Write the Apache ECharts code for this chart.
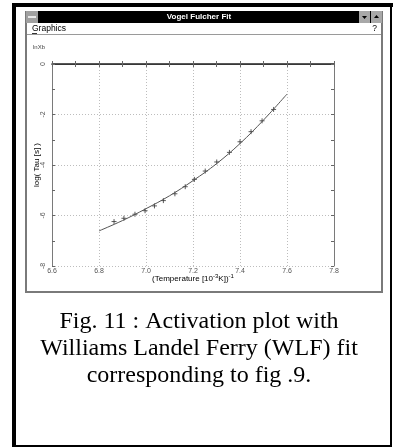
<!DOCTYPE html>
<html><head><meta charset="utf-8">
<style>html,body{margin:0;padding:0;background:#fff}#c{width:393px;height:447px}</style>
<script src="https://cdn.jsdelivr.net/npm/echarts@6/dist/echarts.min.js"></script>
</head><body><div id="c"></div>
<script>
// measured points (1/T in 10^-3 K^-1, log tau)
var pointX = [6.864, 6.906, 6.953, 6.996, 7.036, 7.074, 7.123, 7.167, 7.206, 7.252, 7.301, 7.355, 7.400, 7.447, 7.494, 7.543];
var pointY = [-6.24, -6.11, -5.95, -5.81, -5.62, -5.41, -5.14, -4.86, -4.57, -4.24, -3.88, -3.50, -3.08, -2.68, -2.25, -1.80];
// WLF fit curve
var fitX = [6.8, 6.9, 7.0, 7.1, 7.2, 7.3, 7.4, 7.5, 7.6];
var fitY = [-6.61, -6.20, -5.73, -5.22, -4.62, -3.95, -3.15, -2.22, -1.19];
var xTicks = ['6.6','6.8','7.0','7.2','7.4','7.6','7.8'];
var yTicks = ['0','-2','-4','-6','-8'];
var captionLines = ['Fig. 11 : Activation plot with', 'Williams Landel Ferry (WLF) fit', 'corresponding to fig .9.'];

var chart = echarts.init(document.getElementById('c'), null, {renderer:'canvas'});
var plus = 'path://M0,5L10,5M5,0L5,10';
var sans = 'Liberation Sans, Arial, sans-serif';
var lblStyle = {color:'#555', fontSize:7, fontFamily:sans};
var gray = '#7a7a7a';
var graphics = [
  // outer black frame
  {type:'rect', shape:{x:12,y:3,width:4,height:444}, style:{fill:'#000'}},
  {type:'rect', shape:{x:12,y:3,width:381,height:4}, style:{fill:'#000'}},
  {type:'rect', shape:{x:390,y:3,width:2,height:444}, style:{fill:'#000'}},
  {type:'rect', shape:{x:12,y:445,width:380,height:2}, style:{fill:'#000'}},
  // window borders
  {type:'rect', shape:{x:25,y:11,width:2,height:282}, style:{fill:gray}},
  {type:'rect', shape:{x:381,y:11,width:2,height:282}, style:{fill:gray}},
  {type:'rect', shape:{x:25,y:291,width:358,height:2}, style:{fill:gray}},
  // title bar
  {type:'rect', shape:{x:26,y:11,width:356,height:12}, style:{fill:'#000'}},
  {type:'rect', shape:{x:26,y:11,width:12,height:12}, style:{fill:'#a0a0a0'}},
  {type:'rect', shape:{x:28,y:16,width:8,height:2}, style:{fill:'#e8e8e8'}},
  {type:'rect', shape:{x:359,y:11,width:11,height:12}, style:{fill:'#a8a8a8'}},
  {type:'rect', shape:{x:371,y:11,width:11,height:12}, style:{fill:'#a8a8a8'}},
  {type:'polygon', shape:{points:[[362,16],[367,16],[364.5,19]]}, style:{fill:'#000'}},
  {type:'polygon', shape:{points:[[374,18],[379,18],[376.5,15]]}, style:{fill:'#000'}},
  {type:'text', x:199, y:17, style:{text:'Vogel Fulcher Fit', fill:'#fff', fontSize:8, fontWeight:'bold', fontFamily:sans, align:'center', verticalAlign:'middle'}},
  // menu
  {type:'text', x:32, y:29, style:{text:'Graphics', fill:'#000', fontSize:8.5, fontFamily:sans, verticalAlign:'middle'}},
  {type:'rect', shape:{x:32,y:33,width:5,height:0.8}, style:{fill:'#000'}},
  {type:'text', x:377, y:29, style:{text:'?', fill:'#000', fontSize:8.5, fontFamily:sans, align:'right', verticalAlign:'middle'}},
  {type:'rect', shape:{x:27,y:34,width:354,height:1}, style:{fill:'#9a9a9a'}},
  {type:'text', x:33, y:47, style:{text:'lnXb', fill:'#444', fontSize:6, fontFamily:sans, verticalAlign:'middle'}},
  // y axis title
  {type:'text', x:37, y:165, rotation:Math.PI/2, style:{text:'log( Tau [s] )', fill:'#000', fontSize:8, fontFamily:sans, align:'center', verticalAlign:'middle'}},
  // x axis title
  {type:'text', x:193, y:278, style:{text:'{n|(Temperature [10}{s|-3}{n|K])}{s|-1}', fill:'#000', fontFamily:sans, align:'center', verticalAlign:'middle',
     rich:{n:{fontSize:8, fontFamily:sans, fill:'#000', verticalAlign:'bottom'}, s:{fontSize:6, fontFamily:sans, fill:'#000', verticalAlign:'top', padding:[0,0,4,0]}}}}
];
captionLines.forEach(function(t,i){
  graphics.push({type:'text', x:199, y:322+i*27, style:{text:t, fill:'#000', fontSize:24, fontFamily:'Liberation Serif, Times New Roman, serif', align:'center', verticalAlign:'middle'}});
});

chart.setOption({
  animation:false,
  backgroundColor:'#fff',
  grid:{left:52, top:64, width:282, height:202, containLabel:false},
  xAxis:[{
    type:'value', min:6.6, max:7.8, interval:0.2, position:'bottom',
    axisLine:{show:true, lineStyle:{color:gray, width:1}},
    axisTick:{show:true, inside:true, length:3, lineStyle:{color:'#666'}},
    minorTick:{show:true, splitNumber:2, length:3, lineStyle:{color:'#666'}},
    splitLine:{show:true, lineStyle:{color:'#bdbdbd', type:[1,2], width:1}},
    axisLabel:Object.assign({margin:2, formatter:function(v){var i=Math.round((v-6.6)/0.2);return xTicks[i]||'';}}, lblStyle)
  },{
    type:'value', min:6.6, max:7.8, interval:0.2, position:'top',
    axisLine:{show:true, lineStyle:{color:'#222', width:1.5}},
    axisTick:{show:true, inside:true, length:3, lineStyle:{color:'#666'}},
    minorTick:{show:true, splitNumber:2, length:3, lineStyle:{color:'#666'}},
    splitLine:{show:false}, axisLabel:{show:false}
  }],
  yAxis:[{
    type:'value', min:-8, max:0, interval:2, position:'left',
    axisLine:{show:true, lineStyle:{color:gray, width:1}},
    axisTick:{show:true, inside:true, length:3, lineStyle:{color:'#666'}},
    minorTick:{show:true, splitNumber:2, length:3, lineStyle:{color:'#666'}},
    splitLine:{show:true, lineStyle:{color:'#bdbdbd', type:[1,2], width:1}},
    axisLabel:Object.assign({margin:5, rotate:90, formatter:function(v){var i=Math.round(-v/2);return yTicks[i]||'';}}, lblStyle)
  },{
    type:'value', min:-8, max:0, interval:2, position:'right',
    axisLine:{show:true, lineStyle:{color:gray, width:1}},
    axisTick:{show:true, inside:true, length:3, lineStyle:{color:'#666'}},
    minorTick:{show:true, splitNumber:2, length:3, lineStyle:{color:'#666'}},
    splitLine:{show:false}, axisLabel:{show:false}
  }],
  series:[{
    type:'line', data:fitX.map(function(x,i){return [x,fitY[i]];}),
    smooth:0.4, showSymbol:false, symbol:'none',
    lineStyle:{color:'#555', width:1}
  },{
    type:'scatter', data:pointX.map(function(x,i){return [x,pointY[i]];}),
    symbol:plus, symbolSize:5,
    itemStyle:{color:'none', borderColor:'#333', borderWidth:1}
  }],
  graphic:graphics
});
</script></body></html>
